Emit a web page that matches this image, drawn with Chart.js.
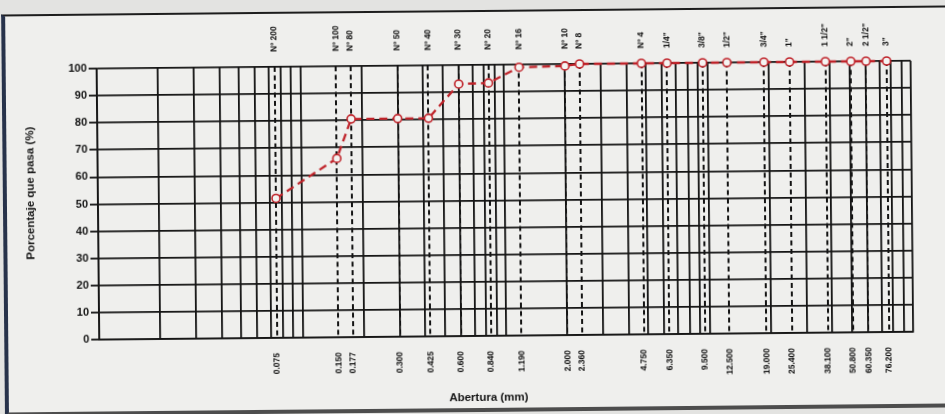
<!DOCTYPE html>
<html>
<head>
<meta charset="utf-8">
<script src="https://cdn.jsdelivr.net/npm/chart.js@4.4.1/dist/chart.umd.min.js"></script>
<style>
  html, body { margin: 0; padding: 0; background: #e3e3e1; overflow: hidden; }
  #sheet { position: absolute; left: 0; top: 0; width: 945px; height: 414px; transform: rotate(-0.55deg); }
  #paper { position: absolute; left: 3px; top: 10px; width: 990px; height: 396px; background: #efefed;
           border-top: 2px solid #1d1d1d; border-left: 4px solid #27324a; border-bottom: 4px solid #4d4d4d; }
  canvas { position: absolute; left: 0; top: 0; }
</style>
</head>
<body>
<div id="sheet">
  <div id="paper"></div>
  <canvas id="chart" width="945" height="414"></canvas>
</div>
<script>
// sieve openings (mm) and their names
const sieveNames = ['Nº 200', 'Nº 100', 'Nº 80', 'Nº 50', 'Nº 40', 'Nº 30', 'Nº 20', 'Nº 16', 'Nº 10', 'Nº 8',
  'Nº 4', '1/4"', '3/8"', '1/2"', '3/4"', '1"', '1 1/2"', '2"', '2 1/2"', '3"'];
const openingLabels = ['0.075', '0.150', '0.177', '0.300', '0.425', '0.600', '0.840', '1.190', '2.000', '2.360',
  '4.750', '6.350', '9.500', '12.500', '19.000', '25.400', '38.100', '50.800', '60.350', '76.200'];
const openings = [0.075, 0.150, 0.177, 0.300, 0.425, 0.600, 0.840, 1.190, 2.000, 2.360,
  4.750, 6.350, 9.500, 12.500, 19.000, 25.400, 38.100, 50.800, 60.350, 76.200];
// percent passing
const passing = [51.5, 66, 80.5, 80.5, 80.5, 93, 93.3, 99, 99.3, 100,
  100, 100, 100, 100, 100, 100, 100, 100, 100, 100];

const xMin = 0.01, xMax = 100;
const yMin = 0, yMax = 100, yStep = 10;

const red = '#bf2229';
const ink = '#141414';
const font = '"Liberation Sans", Arial, sans-serif';

// log grid: 1..9 x 10^n
const gridValues = [];
for (let e = Math.log10(xMin); e < Math.log10(xMax); e++) {
  for (let m = 1; m <= 9; m++) gridValues.push(m * Math.pow(10, e));
}
gridValues.push(xMax);

const sievePlugin = {
  id: 'sieves',
  beforeDatasetsDraw(chart) {
    const { ctx, chartArea: a, scales: { x } } = chart;
    ctx.save();
    ctx.strokeStyle = ink;
    ctx.lineWidth = 2;
    ctx.setLineDash([5, 3.5]);
    openings.forEach((v) => {
      const px = Math.round(x.getPixelForValue(v));
      ctx.beginPath();
      ctx.moveTo(px, a.top);
      ctx.lineTo(px, a.bottom);
      ctx.stroke();
    });
    ctx.setLineDash([]);
    ctx.fillStyle = ink;
    ctx.font = 'bold 8.5px ' + font;
    ctx.textBaseline = 'middle';
    openings.forEach((v, i) => {
      const px = x.getPixelForValue(v);
      ctx.save();
      ctx.translate(px, a.top - 15);
      ctx.rotate(-Math.PI / 2);
      ctx.textAlign = 'left';
      ctx.fillText(sieveNames[i], 0, 0);
      ctx.restore();
      ctx.save();
      ctx.translate(px, a.bottom + 15);
      ctx.rotate(-Math.PI / 2);
      ctx.textAlign = 'right';
      ctx.fillText(openingLabels[i], 0, 0);
      ctx.restore();
    });
    ctx.restore();
  },
  afterDraw(chart) {
    const { ctx } = chart;
    ctx.save();
    ctx.fillStyle = ink;
    ctx.font = 'bold 11.5px ' + font;
    ctx.textAlign = 'center';
    ctx.textBaseline = 'middle';
    ctx.fillText('Abertura (mm)', 487, 398);
    ctx.translate(31, 189);
    ctx.rotate(-Math.PI / 2);
    ctx.fillText('Porcentaje que pasa (%)', 0, 0);
    ctx.restore();
  }
};

new Chart(document.getElementById('chart').getContext('2d'), {
  type: 'line',
  data: {
    datasets: [{
      data: openings.map((v, i) => ({ x: v, y: passing[i] })),
      borderColor: red,
      borderWidth: 2.3,
      borderDash: [8, 5],
      tension: 0,
      pointRadius: 4,
      pointBorderWidth: 1.6,
      pointBorderColor: red,
      pointBackgroundColor: '#f4f4f2',
      clip: false
    }]
  },
  options: {
    responsive: false,
    animation: false,
    devicePixelRatio: 1,
    layout: { padding: { left: 0, top: 65, right: 33, bottom: 0 } },
    plugins: { legend: { display: false }, tooltip: { enabled: false } },
    scales: {
      x: {
        type: 'logarithmic',
        min: xMin,
        max: xMax,
        afterBuildTicks: (s) => { s.ticks = gridValues.map((v) => ({ value: v })); },
        afterFit: (s) => { s.height = 78; },
        ticks: { display: false },
        grid: { color: ink, lineWidth: 1.8, drawTicks: false },
        border: { color: ink, width: 1.8 }
      },
      y: {
        min: yMin,
        max: yMax,
        afterFit: (s) => { s.width = 98; },
        ticks: { stepSize: yStep, color: ink, padding: 2, font: { family: font, size: 11, weight: 'bold' } },
        grid: { color: ink, lineWidth: 1.8, tickLength: 8 },
        border: { color: ink, width: 1.8 }
      }
    }
  },
  plugins: [sievePlugin]
});
</script>
</body>
</html>
